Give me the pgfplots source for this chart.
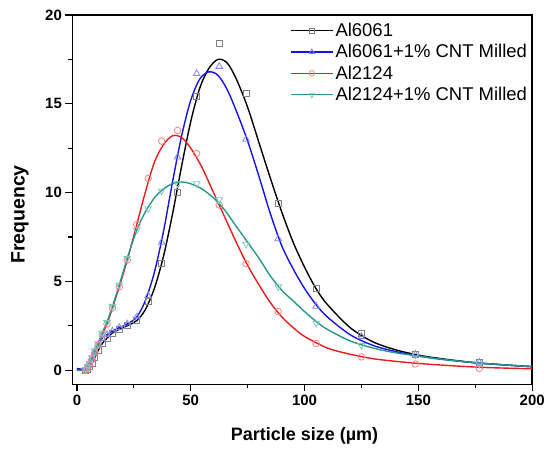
\documentclass[border=0pt]{standalone}
\usepackage{pgfplots}
\pgfplotsset{compat=1.18}
\usepackage{fontspec}
\setmainfont{Liberation Sans}

\definecolor{cblue}{RGB}{20,20,230}
\definecolor{cred}{RGB}{230,30,30}
\definecolor{cteal}{RGB}{40,150,140}
\definecolor{mgray}{RGB}{130,130,130}
\definecolor{mblue}{RGB}{130,130,255}
\definecolor{mred}{RGB}{255,130,130}
\definecolor{mteal}{RGB}{120,200,190}

\begin{document}
\begin{tikzpicture}
\begin{axis}[
    scale only axis,
    width=460.5pt, height=370pt,
    xmin=-2, xmax=200, ymin=-0.8, ymax=20,
    xtick={0,50,...,200}, ytick={0,5,...,20},
    minor x tick num=1, minor y tick num=1,
    xtick pos=lower, ytick pos=left,
    tick align=outside,
    major tick length=7pt, minor tick length=4pt,
    every tick/.style={black, line width=1.3pt},
    axis line style={line width=1.6pt},
    /pgf/number format/assume math mode=true,
    ticklabel style={font=\bfseries\fontsize{15}{17}\selectfont},
    xlabel={Particle size (µm)},
    ylabel={Frequency},
    xlabel style={at={(rel axis cs:0.505,-0.14)}, anchor=center,
        font=\bfseries\fontsize{18}{20}\selectfont},
    ylabel style={at={(rel axis cs:-0.114,0.46)}, anchor=center,
        font=\bfseries\fontsize{19.5}{21}\selectfont},
    legend style={at={(1,1)}, anchor=north east, draw=none, fill=none,
        xshift=-2pt, yshift=-5pt, inner sep=1pt,
        font=\fontsize{18.5}{20}\selectfont, row sep=2.5pt},
    legend cell align=left,
    legend image code/.code={\draw[mark repeat=2,mark phase=2]
        plot coordinates {(0pt,0pt) (21pt,0pt) (42pt,0pt)};},
]
% fitted curves
\addplot[black, line width=1.4pt, smooth, tension=0.5, forget plot] coordinates {
(0,0.05)(3,0)(4.6,0.05)(5.5,0.2)(6.6,0.4)(7.8,0.7)(9.3,1.1)(11.1,1.5)(13.2,1.8)(15.6,2.1)(18.6,2.3)(22.1,2.5)(26.3,2.8)(30,3.4)(34,4.6)(38,6.4)(42,8.8)(46,11.5)(50,14.0)(54,15.9)(58,17.0)(62,17.5)(66,17.3)(70,16.4)(75,14.8)(80,12.8)(85,10.8)(90,8.9)(95,7.2)(100,5.8)(105,4.6)(110,3.7)(120,2.4)(130,1.6)(140,1.15)(150,0.85)(160,0.65)(175,0.42)(190,0.28)(200,0.2)};
\addplot[cblue, line width=1.4pt, smooth, tension=0.5, forget plot] coordinates {
(0,0.1)(3,0.05)(4.6,0.2)(5.5,0.4)(6.6,0.7)(7.8,1.0)(9.3,1.4)(11.1,1.8)(13.2,2.0)(15.6,2.2)(18.6,2.4)(22.1,2.6)(26.3,3.0)(30,3.9)(34,5.5)(38,7.8)(42,10.6)(46,13.2)(50,15.2)(54,16.4)(58,16.8)(62,16.6)(66,15.8)(70,14.6)(75,12.9)(80,10.9)(85,8.8)(90,7.0)(95,5.7)(100,4.6)(105,3.7)(110,3.0)(120,2.0)(130,1.4)(140,1.05)(150,0.8)(160,0.62)(175,0.42)(190,0.28)(200,0.2)};
\addplot[cred, line width=1.4pt, smooth, tension=0.5, forget plot] coordinates {
(0,0)(4,0)(4.6,0.1)(5.5,0.3)(6.6,0.6)(7.8,1.0)(9.3,1.4)(11.1,2.0)(13.2,2.6)(15.6,3.5)(18.6,4.7)(22.1,6.2)(26.3,8.2)(30,10.0)(34,11.7)(38,12.7)(42,13.2)(46,13.1)(50,12.5)(55,11.4)(60,10.0)(65,8.6)(70,7.2)(75,5.9)(80,4.8)(85,3.8)(90,3.0)(95,2.4)(100,1.9)(110,1.25)(120,0.9)(130,0.65)(140,0.5)(150,0.38)(165,0.25)(180,0.15)(200,0.08)};
\addplot[cteal, line width=1.4pt, smooth, tension=0.5, forget plot] coordinates {
(0,0)(3,0)(3.9,0.05)(4.6,0.2)(5.5,0.4)(6.6,0.7)(7.8,1.1)(9.3,1.5)(11.1,2.1)(13.2,2.7)(15.6,3.6)(18.6,4.8)(22.1,6.3)(26.3,7.9)(30,8.9)(34,9.7)(38,10.2)(42,10.5)(46,10.6)(50,10.5)(55,10.2)(60,9.7)(65,9.0)(70,8.1)(75,7.2)(80,6.3)(85,5.3)(90,4.5)(95,3.9)(100,3.3)(105,2.75)(110,2.3)(120,1.65)(130,1.25)(140,0.98)(150,0.8)(160,0.62)(175,0.42)(190,0.28)(200,0.2)};
% measured points
\addplot[only marks, mark=square, mark size=3pt, mgray, mark options={line width=0.8pt}, forget plot] coordinates {
(3.9,0.0)(4.6,0.05)(5.5,0.2)(6.6,0.4)(7.8,0.7)(9.3,1.1)(11.1,1.5)(13.2,1.8)(15.6,2.1)(18.6,2.3)(22.1,2.5)(26.3,2.8)(31.3,3.9)(37.2,6.0)(44.2,10.0)(52.6,15.4)(62.5,18.4)(74.3,15.6)(88.4,9.4)(105.1,4.6)(125,2.1)(148.7,0.9)(176.8,0.45)};
\addplot[only marks, mark=triangle, mark size=3.8pt, mblue, mark options={line width=0.8pt}, forget plot] coordinates {
(3.9,0.1)(4.6,0.2)(5.5,0.4)(6.6,0.7)(7.8,1.0)(9.3,1.4)(11.1,1.8)(13.2,2.0)(15.6,2.2)(18.6,2.4)(22.1,2.6)(26.3,3.0)(31.3,4.2)(37.2,7.2)(44.2,12.0)(52.6,16.7)(62.5,17.1)(74.3,13.0)(88.4,7.4)(105.1,3.6)(125,1.9)(148.7,0.9)(176.8,0.45)};
\addplot[only marks, mark=o, mark size=3.3pt, mred, mark options={line width=0.8pt}, forget plot] coordinates {
(3.9,0)(4.6,0.1)(5.5,0.3)(6.6,0.6)(7.8,1.0)(9.3,1.4)(11.1,2.0)(13.2,2.6)(15.6,3.5)(18.6,4.7)(22.1,6.2)(26.3,8.2)(31.3,10.8)(37.2,12.9)(44.2,13.5)(52.6,12.2)(62.5,9.3)(74.3,6.0)(88.4,3.3)(105.1,1.5)(125,0.75)(148.7,0.35)(176.8,0.1)};
\addplot[only marks, mark=triangle, mark size=3.8pt, mteal, mark options={line width=0.8pt, rotate=180}, forget plot] coordinates {
(3.9,0.05)(4.6,0.2)(5.5,0.4)(6.6,0.7)(7.8,1.1)(9.3,1.5)(11.1,2.1)(13.2,2.7)(15.6,3.6)(18.6,4.8)(22.1,6.3)(26.3,7.9)(31.3,9.1)(37.2,10.1)(44.2,10.5)(52.6,10.5)(62.5,9.6)(74.3,7.1)(88.4,4.7)(105.1,2.65)(125,1.4)(148.7,0.85)(176.8,0.35)};
% legend
\addlegendimage{black, line width=1.4pt, mark=square, mark size=2.5pt, mark options={draw=mgray, fill=white, line width=0.8pt}}
\addlegendentry{Al6061}
\addlegendimage{cblue, line width=1.4pt, mark=triangle, mark size=3pt, mark options={draw=mblue, fill=white, line width=0.8pt}}
\addlegendentry{Al6061+1\% CNT Milled}
\addlegendimage{cred, line width=1.4pt, mark=o, mark size=2.8pt, mark options={draw=mred, fill=white, line width=0.8pt}}
\addlegendentry{Al2124}
\addlegendimage{cteal, line width=1.4pt, mark=triangle, mark size=3pt, mark options={draw=mteal, fill=white, line width=0.8pt, rotate=180}}
\addlegendentry{Al2124+1\% CNT Milled}
\end{axis}
\path (current axis.south west) ++(-72.5pt,-71pt) rectangle ++(548pt,456pt);
\end{tikzpicture}
\end{document}
